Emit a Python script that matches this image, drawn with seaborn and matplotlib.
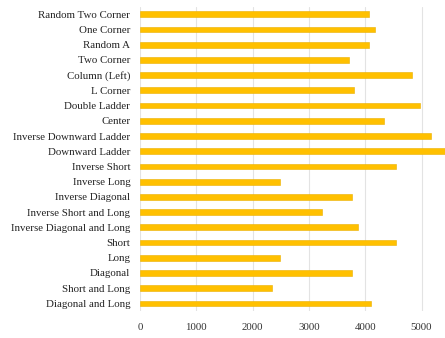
import matplotlib
matplotlib.use("Agg")
import matplotlib.pyplot as plt
import seaborn as sns
import pandas as pd

patterns = [
    "Random Two Corner", "One Corner", "Random A", "Two Corner", "Column (Left)",
    "L Corner", "Double Ladder", "Center", "Inverse Downward Ladder", "Downward Ladder",
    "Inverse Short", "Inverse Long", "Inverse Diagonal", "Inverse Short and Long",
    "Inverse Diagonal and Long", "Short", "Long", "Diagonal", "Short and Long",
    "Diagonal and Long",
]
values = [
    4075, 4180, 4065, 3710, 4830,
    3795, 4975, 4330, 5170, 5450,
    4545, 2480, 3765, 3235,
    3880, 4545, 2480, 3765, 2340,
    4095,
]
x_ticks = [0, 1000, 2000, 3000, 4000, 5000]

df = pd.DataFrame({"pattern": patterns, "value": values})

sns.set_style("white")
plt.rcParams["font.family"] = ["Liberation Serif", "DejaVu Serif"]

fig = plt.figure(figsize=(4.45, 3.38), dpi=100)
ax = fig.add_axes([140 / 445, 1 - 311 / 338, 1 - 140 / 445, (311 - 6.7) / 338])

sns.barplot(data=df, x="value", y="pattern", color="#FFC000", saturation=1,
            width=0.38, edgecolor="#EAB000", linewidth=0.4, ax=ax)

ax.set_xlim(0, 5417)
ax.set_xticks(x_ticks)
ax.set_xticklabels([str(t) for t in x_ticks], fontsize=7.8, color="#333333")
ax.tick_params(axis="y", labelsize=7.8, length=0, pad=7, colors="#222222")
ax.tick_params(axis="x", length=0, pad=9)
ax.xaxis.grid(True, color="#E3E3E3", linewidth=0.8)
ax.set_axisbelow(True)
for s in ax.spines.values():
    s.set_visible(False)
ax.set_xlabel("")
ax.set_ylabel("")

fig.savefig("out.png", dpi=100)
